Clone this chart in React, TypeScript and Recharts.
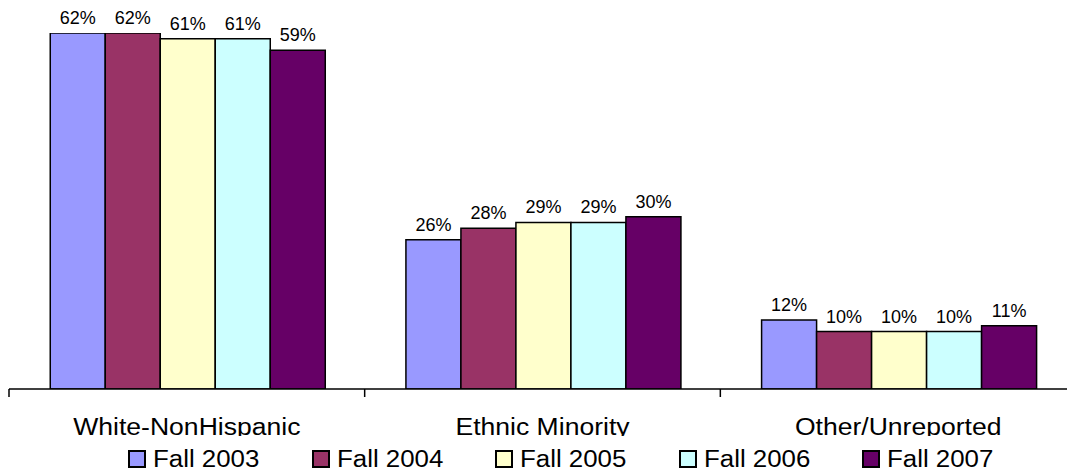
import { BarChart, Bar, XAxis, YAxis, LabelList } from "recharts";

const categories = ["White-NonHispanic", "Ethnic Minority", "Other/Unreported"];
const seriesNames = ["Fall 2003", "Fall 2004", "Fall 2005", "Fall 2006", "Fall 2007"];
const fall2003 = [62, 26, 12];
const fall2004 = [62, 28, 10];
const fall2005 = [61, 29, 10];
const fall2006 = [61, 29, 10];
const fall2007 = [59, 30, 11];
const colors = ["#9999FF", "#993366", "#FFFFCC", "#CCFFFF", "#660066"];

const seriesValues = [fall2003, fall2004, fall2005, fall2006, fall2007];

const data = categories.map((name, i) => {
  const row: any = { name };
  seriesNames.forEach((s, j) => {
    row[s] = seriesValues[j][i];
  });
  return row;
});

const FONT = "'Liberation Sans', Arial, sans-serif";
const CHART_W = 1076;
const LEFT = 9;
const BAND = (CHART_W - LEFT) / categories.length;

function CategoryTick(props: any) {
  const { x, y, payload } = props;
  const left = x - BAND / 2;
  return (
    <g>
      <line x1={left} y1={y} x2={left} y2={y + 8} stroke="#000" strokeWidth={1.5} />
      <text
        x={0}
        y={0}
        transform={`translate(${x},${y + 46}) scale(1.13,1)`}
        textAnchor="middle"
        fontFamily={FONT}
        fontSize={23.5}
        fill="#000"
      >
        {payload.value}
      </text>
    </g>
  );
}

export default function App() {
  return (
    <div
      style={{
        position: "absolute",
        left: 0,
        top: 0,
        width: 1067,
        height: 472,
        overflow: "hidden",
        background: "#fff",
      }}
    >
      <BarChart
        width={CHART_W}
        height={472}
        data={data}
        margin={{ top: 33, right: 0, bottom: 0, left: LEFT }}
        barCategoryGap="11.6%"
        barGap={0}
      >
        <XAxis
          dataKey="name"
          height={83}
          tickSize={0}
          tickMargin={0}
          tick={<CategoryTick />}
          axisLine={{ stroke: "#000", strokeWidth: 1.5 }}
          interval={0}
        />
        <YAxis hide domain={[0, 62]} allowDataOverflow />
        {seriesNames.map((s, j) => (
          <Bar
            key={s}
            dataKey={s}
            fill={colors[j]}
            stroke="#000"
            strokeWidth={1.5}
            isAnimationActive={false}
          >
            <LabelList
              dataKey={s}
              position="top"
              offset={9}
              formatter={(v: any) => `${v}%`}
              fontFamily={FONT}
              fontSize={18}
              fill="#000"
            />
          </Bar>
        ))}
      </BarChart>
      <div
        style={{
          position: "absolute",
          left: 0,
          top: 436,
          width: 1067,
          height: 36,
          background: "#fff",
          fontFamily: FONT,
          fontSize: 23.5,
          color: "#000",
        }}
      >
        {seriesNames.map((s, j) => (
          <div
            key={s}
            style={{
              position: "absolute",
              left: 128 + j * 183.5,
              top: 11,
              height: 24,
              display: "flex",
              alignItems: "center",
              whiteSpace: "nowrap",
            }}
          >
            <span
              style={{
                display: "inline-block",
                width: 14,
                height: 14,
                background: colors[j],
                border: "2px solid #000",
                marginRight: 7,
              }}
            />
            <span
              style={{
                display: "inline-block",
                transform: "scale(1.1,1)",
                transformOrigin: "left center",
                lineHeight: "24px",
              }}
            >
              {s}
            </span>
          </div>
        ))}
      </div>
    </div>
  );
}
